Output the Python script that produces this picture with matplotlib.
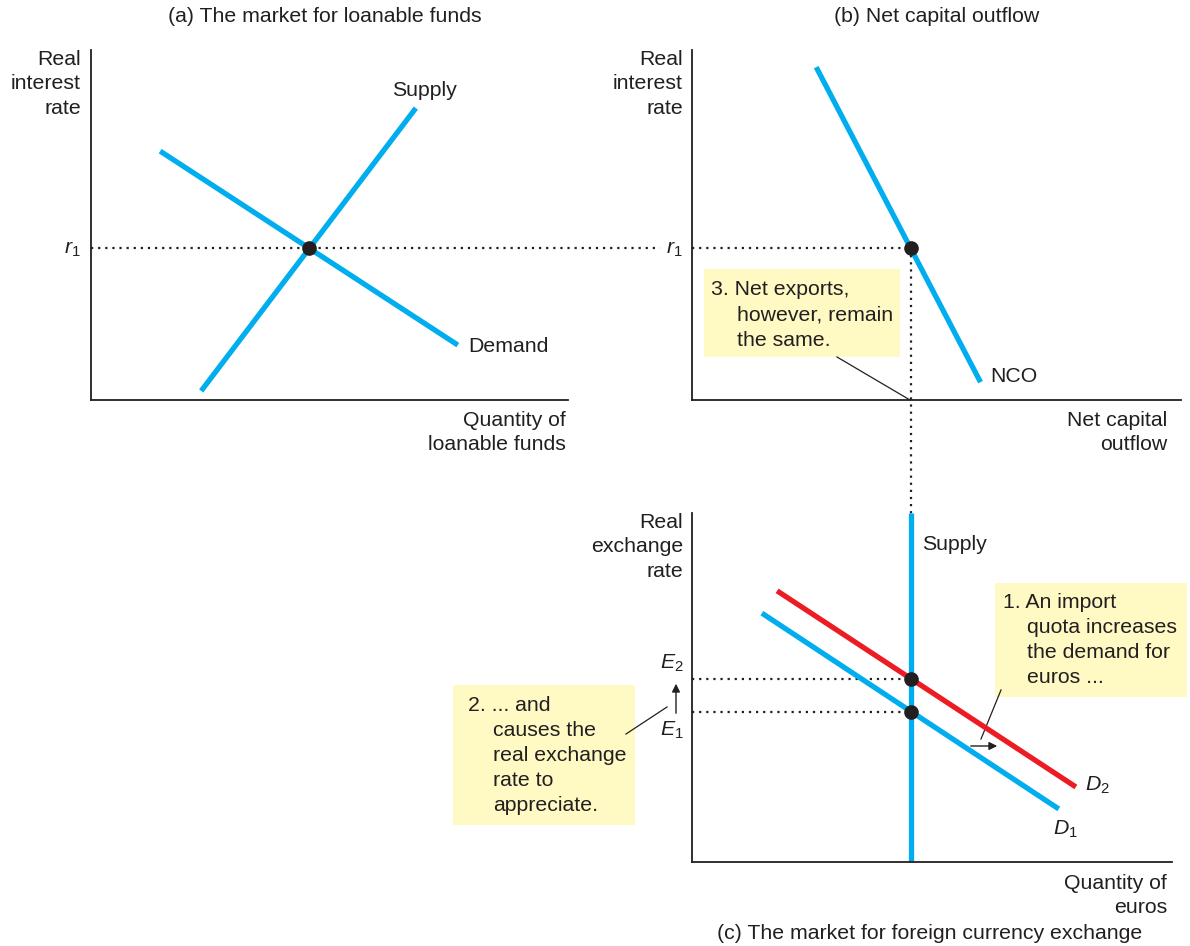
import matplotlib.pyplot as plt
from matplotlib.patches import Rectangle

plt.rcParams['font.family'] = ['Liberation Sans', 'DejaVu Sans']
plt.rcParams['mathtext.fontset'] = 'custom'
plt.rcParams['mathtext.rm'] = 'Liberation Sans'
plt.rcParams['mathtext.it'] = 'Liberation Sans:italic'

W, H = 1190, 946
BLUE = '#00AEEF'
RED = '#ED1C24'
INK = '#231F20'
NOTE = '#FFF9C4'
FS = 15.3

# (a) market for loanable funds
lf_supply_q = [2.31, 6.81]
lf_supply_r = [0.26, 8.34]
lf_demand_q = [1.45, 7.69]
lf_demand_r = [7.11, 1.57]
lf_eq_q = 4.57
r1 = 4.34

# (b) net capital outflow
nco_q = [2.54, 5.90]
nco_r = [9.51, 0.51]
nco_eq = 4.47

# (c) market for foreign currency exchange
fx_supply_q = nco_eq
d1_q = [1.43, 7.50]
d1_e = [7.13, 1.52]
d2_q = [1.74, 7.85]
d2_e = [7.77, 2.15]
e1 = 4.30
e2 = 5.24


def box(l, t, r, b):
    return [l / W, 1 - b / H, (r - l) / W, (b - t) / H]


fig = plt.figure(figsize=(W / 100, H / 100), dpi=100)

# overlay in pixel units for titles, notes and leaders
ov = fig.add_axes([0, 0, 1, 1], zorder=-1)
ov.set_xlim(0, W)
ov.set_ylim(H, 0)
ov.axis('off')

ax_a = fig.add_axes(box(91, 50, 568, 400))
ax_b = fig.add_axes(box(692, 50, 1181, 400))
ax_c = fig.add_axes(box(692, 513, 1172, 862))

for ax in (ax_a, ax_b, ax_c):
    ax.set_facecolor('none')
    ax.set_ylim(0, 10)
    for s in ('top', 'right'):
        ax.spines[s].set_visible(False)
    for s in ('left', 'bottom'):
        ax.spines[s].set_linewidth(1.3)
        ax.spines[s].set_color(INK)
    ax.set_xticks([])
    ax.set_yticks([])
ax_a.set_xlim(0, 10)
ax_b.set_xlim(0, 10)
ax_c.set_xlim(0, 480 / 48.9)

dot = dict(ls=(0, (1, 2.2)), lw=1.6, color=INK)

# panel (a)
ax_a.plot([0, 11.93], [r1, r1], clip_on=False, **dot)
ax_a.plot(lf_supply_q, lf_supply_r, color=BLUE, lw=3.8, solid_capstyle='butt')
ax_a.plot(lf_demand_q, lf_demand_r, color=BLUE, lw=3.8, solid_capstyle='butt')
ax_a.plot(lf_eq_q, r1, 'o', color=INK, ms=9.5, zorder=5)

# panel (b)
ax_b.plot([0, nco_eq], [r1, r1], **dot)
ax_b.plot([nco_eq, nco_eq], [r1, -3.3], clip_on=False, **dot)
ax_b.plot(nco_q, nco_r, color=BLUE, lw=3.8, solid_capstyle='butt')
ax_b.plot(nco_eq, r1, 'o', color=INK, ms=9.5, zorder=5)

# panel (c)
ax_c.plot([0, fx_supply_q], [e2, e2], **dot)
ax_c.plot([0, fx_supply_q], [e1, e1], **dot)
ax_c.plot([fx_supply_q, fx_supply_q], [0, 10], color=BLUE, lw=3.8, solid_capstyle='butt')
ax_c.plot(d1_q, d1_e, color=BLUE, lw=3.8, solid_capstyle='butt')
ax_c.plot(d2_q, d2_e, color=RED, lw=3.8, solid_capstyle='butt')
ax_c.plot([fx_supply_q, fx_supply_q], [e1, e2], 'o', color=INK, ms=9.5, zorder=5)


def txt(x, y, s, ha='left', va='center', **kw):
    ov.text(x, y, s, ha=ha, va=va, fontsize=FS, color=INK, **kw)


def label(x, y, s):
    ov.text(x, y, s, ha='right', va='top', multialignment='right',
            linespacing=1.36, fontsize=FS, color=INK)


# titles
txt(325, 17, '(a) The market for loanable funds', ha='center')
txt(937, 17, '(b) Net capital outflow', ha='center')
txt(930, 933, '(c) The market for foreign currency exchange', ha='center')

# axis labels
label(81, 50, 'Real\ninterest\nrate')
label(683, 50, 'Real\ninterest\nrate')
label(683, 513, 'Real\nexchange\nrate')
label(566, 411, 'Quantity of\nloanable funds')
label(1167, 411, 'Net capital\noutflow')
label(1167, 874, 'Quantity of\neuros')

# curve labels
txt(392, 91, 'Supply')
txt(468, 346, 'Demand')
txt(990, 376, 'NCO')
txt(922, 544, 'Supply')
txt(1085, 785, r'$\mathit{D}_\mathrm{2}$')
txt(1053, 829, r'$\mathit{D}_\mathrm{1}$')
txt(81, 249, r'$\mathit{r}_\mathrm{1}$', ha='right')
txt(683, 249, r'$\mathit{r}_\mathrm{1}$', ha='right')
txt(684, 663, r'$\mathit{E}_\mathrm{2}$', ha='right')
txt(684, 730, r'$\mathit{E}_\mathrm{1}$', ha='right')

# note boxes
for l, t, r, b in [(704, 269, 900, 357), (995, 583, 1187, 697), (453, 685, 635, 825)]:
    ov.add_patch(Rectangle((l, t), r - l, b - t, facecolor=NOTE, edgecolor='none'))

txt(711, 289, '3. Net exports,')
txt(737, 315, 'however, remain')
txt(737, 340, 'the same.')
ov.plot([837, 910], [357, 400], color=INK, lw=0.9)

txt(1003, 602, '1. An import')
txt(1027, 627, 'quota increases')
txt(1027, 652, 'the demand for')
txt(1027, 677, 'euros ...')
ov.plot([1001, 981], [690, 739], color=INK, lw=0.9)
ov.annotate('', xy=(1000, 746), xytext=(968, 746),
            arrowprops=dict(arrowstyle='-|>', color=INK, lw=1.0, mutation_scale=12))

txt(468, 705, '2. ... and')
txt(493, 730, 'causes the')
txt(493, 755, 'real exchange')
txt(493, 780, 'rate to')
txt(493, 805, 'appreciate.')
ov.plot([626, 667], [734, 707], color=INK, lw=0.9)
ov.annotate('', xy=(676, 681), xytext=(676, 716),
            arrowprops=dict(arrowstyle='-|>', color=INK, lw=1.0, mutation_scale=12))

fig.savefig('out.png', dpi=100)
